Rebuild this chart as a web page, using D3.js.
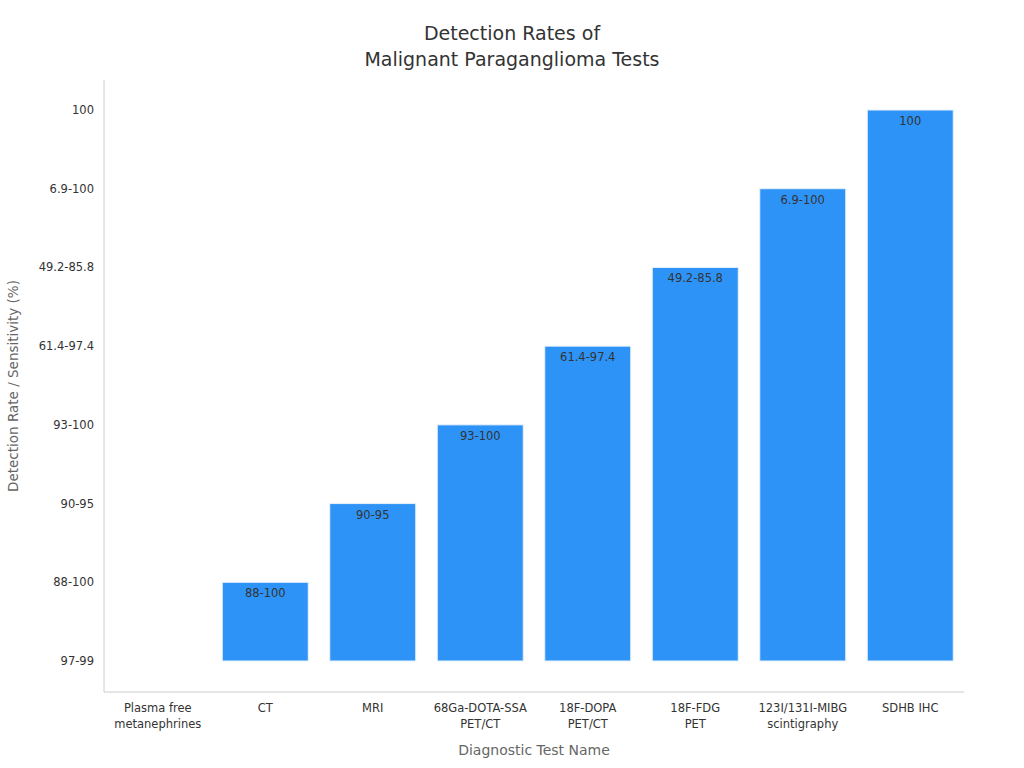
<!DOCTYPE html>
<html><head><meta charset="utf-8">
<script src="https://cdn.jsdelivr.net/npm/d3@7"></script>
<style>body{margin:0;background:#fff;font-family:"DejaVu Sans",sans-serif}</style>
</head><body><svg id="c" width="1024" height="768"></svg>
<script>
const categories = ["Plasma free\nmetanephrines","CT","MRI","68Ga-DOTA-SSA\nPET/CT","18F-DOPA\nPET/CT","18F-FDG\nPET","123I/131I-MIBG\nscintigraphy","SDHB IHC"];
const values = ["97-99","88-100","90-95","93-100","61.4-97.4","49.2-85.8","6.9-100","100"];
const yTicks = ["97-99","88-100","90-95","93-100","61.4-97.4","49.2-85.8","6.9-100","100"];

const svg = d3.select("#c");
const x = d3.scaleBand().domain(categories).range([104,964]).paddingInner(0.2).paddingOuter(0.1);
const y = d3.scalePoint().domain(yTicks).range([661,110]);

svg.append("text").attr("x",512).attr("y",40).attr("text-anchor","middle").attr("font-size",19).attr("fill","#333").text("Detection Rates of");
svg.append("text").attr("x",512).attr("y",66).attr("text-anchor","middle").attr("font-size",19).attr("fill","#333").text("Malignant Paraganglioma Tests");

svg.append("line").attr("x1",104).attr("x2",104).attr("y1",80).attr("y2",692).attr("stroke","#ccc");
svg.append("line").attr("x1",104).attr("x2",964).attr("y1",692).attr("y2",692).attr("stroke","#ccc");

svg.selectAll(".yt").data(yTicks).join("text").attr("x",94).attr("y",d=>y(d)+4)
  .attr("text-anchor","end").attr("font-size",11.5).attr("fill","#333").text(d=>d);

const xt = svg.selectAll(".xt").data(categories).join("text").attr("text-anchor","middle")
  .attr("font-size",11.5).attr("fill","#333");
xt.each(function(d){
  const t=d3.select(this); const cx=x(d)+x.bandwidth()/2;
  d.split("\n").forEach((l,i)=>t.append("tspan").attr("x",cx).attr("y",712+i*16).text(l));
});

svg.append("text").attr("x",534).attr("y",755).attr("text-anchor","middle").attr("font-size",14).attr("fill","#666").text("Diagnostic Test Name");
svg.append("text").attr("transform","translate(18,386) rotate(-90)").attr("text-anchor","middle").attr("font-size",13.5).attr("fill","#666").text("Detection Rate / Sensitivity (%)");

const data = categories.map((c,i)=>({c,v:values[i]}));
svg.selectAll(".bar").data(data).join("rect").attr("x",d=>x(d.c)).attr("width",x.bandwidth())
  .attr("y",d=>y(d.v)).attr("height",d=>y(yTicks[0])-y(d.v))
  .attr("fill","#2e93f6").attr("stroke","#e8f1fb").attr("stroke-width",1);
svg.selectAll(".lbl").data(data.filter(d=>d.v!==yTicks[0])).join("text").attr("x",d=>x(d.c)+x.bandwidth()/2)
  .attr("y",d=>y(d.v)+15).attr("text-anchor","middle").attr("font-size",11.5).attr("fill","#333").text(d=>d.v);
</script></body></html>
